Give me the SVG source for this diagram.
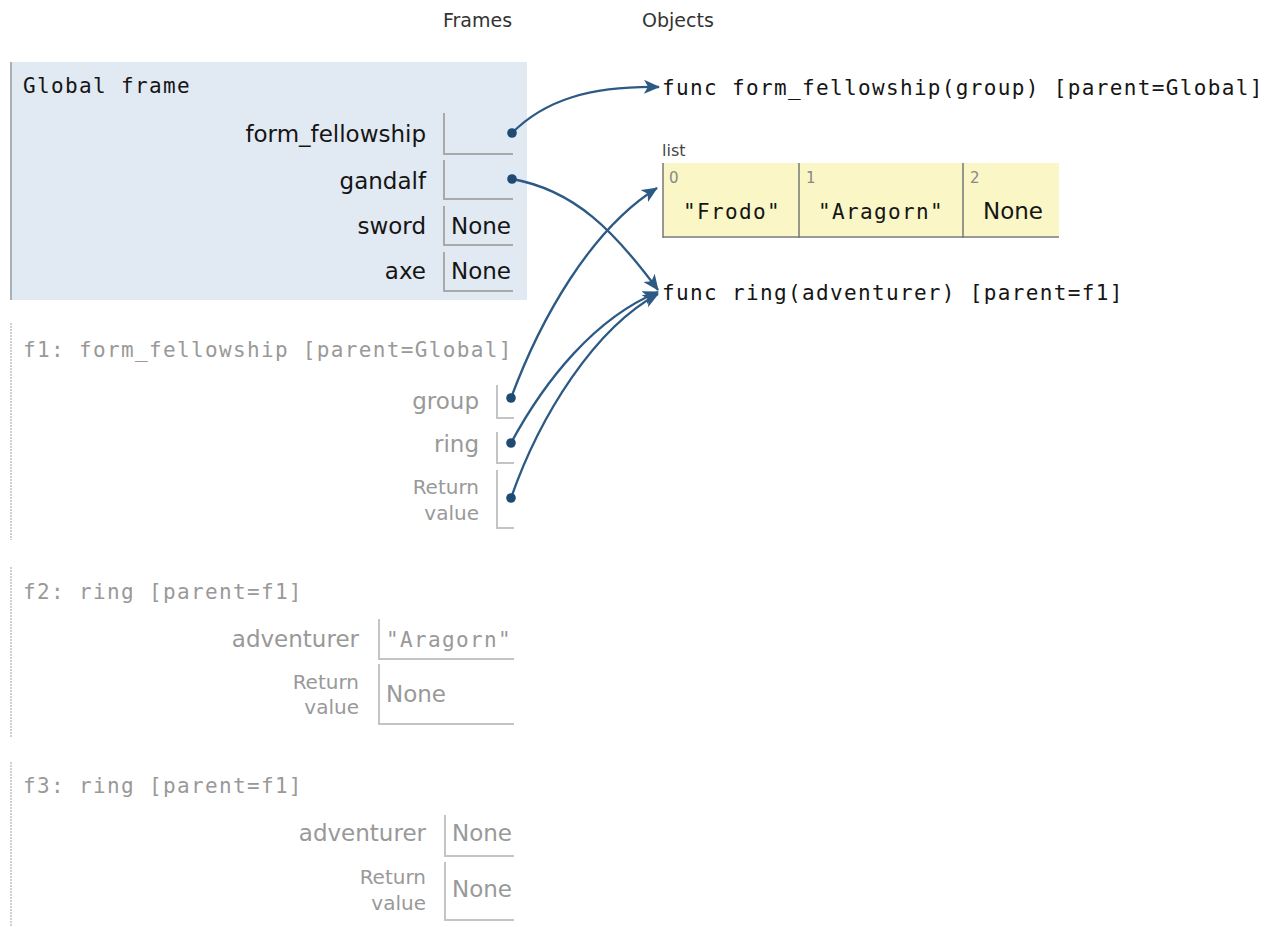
<svg xmlns="http://www.w3.org/2000/svg" width="1281" height="927" viewBox="0 0 1281 927">
<defs>
<style>
.hdr{font-family:"DejaVu Sans",Verdana,sans-serif;font-size:19px;fill:#333}
.mono{font-family:"DejaVu Sans Mono",monospace;font-size:21px;letter-spacing:1.35px}
.lbl{font-family:"DejaVu Sans",Verdana,sans-serif;font-size:23px;text-anchor:end}
.rv{font-family:"DejaVu Sans",Verdana,sans-serif;font-size:20px;text-anchor:end}
.val{font-family:"DejaVu Sans",Verdana,sans-serif;font-size:23px}
.dark{fill:#151515}
.gray{fill:#999}
.box{fill:none;stroke:#a9a9a9;stroke-width:2}
.gbox{fill:none;stroke:#c4c4c4;stroke-width:2}
.fb{stroke:#d0d0d0;stroke-width:2;stroke-dasharray:2 1}
.idx{font-family:"DejaVu Sans",Verdana,sans-serif;font-size:15px;fill:#888}
.conn{fill:none;stroke:#2c5a85;stroke-width:2.3}
.dot{fill:#1f4a72}
</style>
<marker id="ah" markerUnits="userSpaceOnUse" markerWidth="18" markerHeight="16" refX="15" refY="7" orient="auto">
<path d="M0,0 L16,7 L0,14 L4,7 z" fill="#2c5a85"/>
</marker>
</defs>
<rect width="1281" height="927" fill="#fff"/>
<text class="hdr" x="443" y="27">Frames</text>
<text class="hdr" x="642" y="27">Objects</text>

<g id="global-frame">
<rect x="10" y="62" width="517" height="238" fill="#e1e9f3"/>
<line x1="11" y1="62" x2="11" y2="300" stroke="#a9b0b8" stroke-width="2"/>
<text class="mono dark" x="23" y="93">Global frame</text>
<text class="lbl dark" x="426" y="142">form_fellowship</text>
<path class="box" d="M444,113 V154 H513"/>
<text class="lbl dark" x="426" y="189">gandalf</text>
<path class="box" d="M444,160 V199 H513"/>
<text class="lbl dark" x="426" y="234">sword</text>
<path class="box" d="M444,206 V245 H513"/>
<text class="val dark" x="451" y="234">None</text>
<text class="lbl dark" x="426" y="279">axe</text>
<path class="box" d="M444,252 V291 H513"/>
<text class="val dark" x="451" y="279">None</text>
</g>

<g id="f1">
<line class="fb" x1="11" y1="323" x2="11" y2="540"/>
<text class="mono gray" x="23" y="357">f1: form_fellowship [parent=Global]</text>
<text class="lbl gray" x="479" y="409">group</text>
<path class="gbox" d="M497,385 V418 H514"/>
<text class="lbl gray" x="479" y="452">ring</text>
<path class="gbox" d="M497,432 V463 H514"/>
<text class="rv gray" x="479" y="494">Return</text>
<text class="rv gray" x="479" y="520">value</text>
<path class="gbox" d="M497,470 V528 H514"/>
</g>

<g id="f2">
<line class="fb" x1="11" y1="567" x2="11" y2="737"/>
<text class="mono gray" x="23" y="599">f2: ring [parent=f1]</text>
<text class="lbl gray" x="359" y="647">adventurer</text>
<path class="gbox" d="M379,619 V659 H514"/>
<text class="mono gray" x="386" y="647">"Aragorn"</text>
<text class="rv gray" x="359" y="689">Return</text>
<text class="rv gray" x="359" y="714">value</text>
<path class="gbox" d="M379,664 V724 H514"/>
<text class="val gray" x="386" y="702">None</text>
</g>

<g id="f3">
<line class="fb" x1="11" y1="762" x2="11" y2="929"/>
<text class="mono gray" x="23" y="793">f3: ring [parent=f1]</text>
<text class="lbl gray" x="426" y="841">adventurer</text>
<path class="gbox" d="M445,815 V856 H514"/>
<text class="val gray" x="452" y="841">None</text>
<text class="rv gray" x="426" y="884">Return</text>
<text class="rv gray" x="426" y="910">value</text>
<path class="gbox" d="M445,862 V920 H514"/>
<text class="val gray" x="452" y="897">None</text>
</g>

<g id="func-form-fellowship">
<text class="mono dark" x="662" y="95">func form_fellowship(group) [parent=Global]</text>
</g>

<g id="list">
<text x="662" y="156" font-family="DejaVu Sans,Verdana,sans-serif" font-size="16" fill="#444">list</text>
<rect x="663" y="163" width="396" height="75" fill="#faf6c6"/>
<line x1="663" y1="237" x2="1059" y2="237" stroke="#999" stroke-width="2"/>
<line x1="663" y1="163" x2="663" y2="238" stroke="#777" stroke-width="1.5"/>
<line x1="799" y1="163" x2="799" y2="238" stroke="#777" stroke-width="1.5"/>
<line x1="963" y1="163" x2="963" y2="238" stroke="#777" stroke-width="1.5"/>
<text class="idx" x="669" y="183">0</text>
<text class="idx" x="806" y="183">1</text>
<text class="idx" x="970" y="183">2</text>
<text class="mono dark" x="683" y="219">"Frodo"</text>
<text class="mono dark" x="818" y="219">"Aragorn"</text>
<text class="val dark" x="983" y="219">None</text>
</g>

<g id="func-ring">
<text class="mono dark" x="662" y="300">func ring(adventurer) [parent=f1]</text>
</g>

<g id="connectors">
<path class="conn" marker-end="url(#ah)" d="M512,133 C545,100 590,86 659,87"/>
<path class="conn" marker-end="url(#ah)" d="M512,179 C575,190 615,232 658,290"/>
<path class="conn" marker-end="url(#ah)" d="M511,398 C540,320 590,230 657,188"/>
<path class="conn" marker-end="url(#ah)" d="M511,443 C545,380 595,318 658,292"/>
<path class="conn" marker-end="url(#ah)" d="M511,498 C540,415 595,328 658,294"/>
<circle class="dot" cx="512" cy="133" r="4.8"/>
<circle class="dot" cx="512" cy="179" r="4.8"/>
<circle class="dot" cx="511" cy="398" r="4.8"/>
<circle class="dot" cx="511" cy="443" r="4.8"/>
<circle class="dot" cx="511" cy="498" r="4.8"/>
</g>
</svg>
